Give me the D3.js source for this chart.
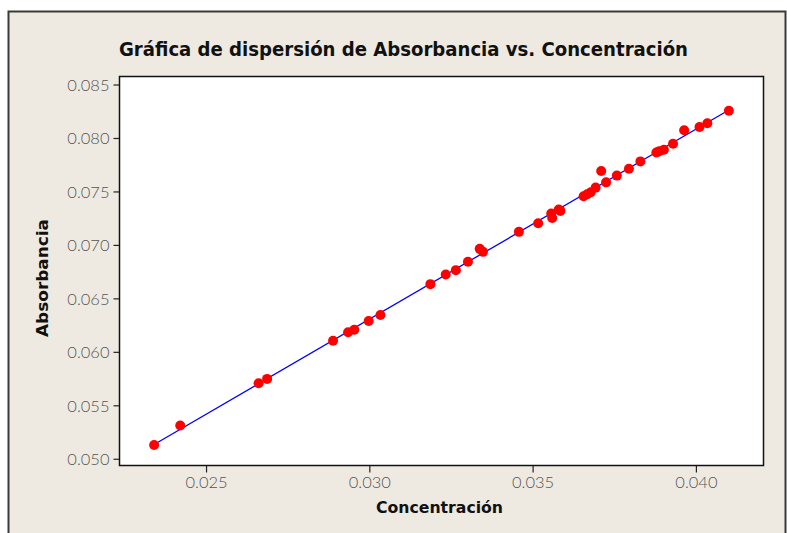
<!DOCTYPE html>
<html>
<head>
<meta charset="utf-8">
<script src="https://cdn.jsdelivr.net/npm/d3@7"></script>
<style>
    body { margin: 0; background: white; }
    svg { display: block; }
</style>
</head>
<body>
<svg width="787" height="533"></svg>
<script>
var concentracion = [
    0.02341, 0.02421, 0.02661, 0.02687, 0.02889, 0.02935, 0.02954, 0.02998,
    0.03034, 0.03187, 0.03234, 0.03265, 0.03302, 0.03338, 0.03348, 0.03458,
    0.03517, 0.03557, 0.03560, 0.03580, 0.03585, 0.03656, 0.03667, 0.03678,
    0.03693, 0.03710, 0.03725, 0.03758, 0.03795, 0.03830, 0.03879, 0.03888,
    0.03902, 0.03930, 0.03964, 0.04011, 0.04035, 0.04101
];

var absorbancia = [
    0.05128, 0.05311, 0.05707, 0.05747, 0.06104, 0.06183, 0.06207, 0.06288,
    0.06344, 0.06633, 0.06724, 0.06764, 0.06842, 0.06963, 0.06935, 0.07122,
    0.07203, 0.07293, 0.07252, 0.07331, 0.07318, 0.07455, 0.07473, 0.07492,
    0.07536, 0.07691, 0.07585, 0.07648, 0.07713, 0.07781, 0.07865, 0.07877,
    0.07890, 0.07946, 0.08073, 0.08102, 0.08137, 0.08255
];

var xTicks = [0.025, 0.030, 0.035, 0.040];
var yTicks = [0.050, 0.055, 0.060, 0.065, 0.070, 0.075, 0.080, 0.085];

var title = "Gráfica de dispersión de Absorbancia vs. Concentración";
var xLabel = "Concentración";
var yLabel = "Absorbancia";

var points = concentracion.map((c, i) => ({ x: c, y: absorbancia[i] }));

// least squares fit for the blue line
var mx = d3.mean(concentracion), my = d3.mean(absorbancia);
var sxy = d3.sum(points, d => (d.x - mx) * (d.y - my));
var sxx = d3.sum(points, d => (d.x - mx) * (d.x - mx));
var slope = sxy / sxx;
var intercept = my - slope * mx;
var xExtent = d3.extent(concentracion);
var fitLine = xExtent.map(x => ({ x: x, y: intercept + slope * x }));

var plot = { left: 119.5, right: 763.5, top: 76.5, bottom: 465.5 };

var xScale = d3.scaleLinear().domain([0.02235, 0.04207]).range([plot.left, plot.right]);
var yScale = d3.scaleLinear().domain([0.04937, 0.08575]).range([plot.bottom, plot.top]);

var svg = d3.select("svg");

// Outer frame
svg.append("rect")
    .attr("x", 8.5)
    .attr("y", 11.5)
    .attr("width", 777)
    .attr("height", 540)
    .attr("fill", "#EEEAE1")
    .attr("stroke", "#3a3a3a")
    .attr("stroke-width", 2);

// Plot area
svg.append("rect")
    .attr("x", plot.left)
    .attr("y", plot.top)
    .attr("width", plot.right - plot.left)
    .attr("height", plot.bottom - plot.top)
    .attr("fill", "white");

// Axes
var xAxis = d3.axisBottom(xScale).tickValues(xTicks).tickFormat(d3.format(".3f")).tickSize(7).tickSizeOuter(0);
var yAxis = d3.axisLeft(yScale).tickValues(yTicks).tickFormat(d3.format(".3f")).tickSize(6).tickSizeOuter(0);

var gx = svg.append("g")
    .attr("transform", "translate(0," + plot.bottom + ")")
    .call(xAxis);
var gy = svg.append("g")
    .attr("transform", "translate(" + plot.left + ",0)")
    .call(yAxis);

[gx, gy].forEach(g => {
    g.select(".domain").remove();
    g.selectAll(".tick line").attr("stroke", "#222").attr("stroke-width", 1.2);
    g.selectAll(".tick text")
        .attr("fill", "#555")
        .style("font-family", "Lato, 'DejaVu Sans'")
        .style("font-weight", 300)
        .style("font-size", "16.5px");
});
gx.selectAll(".tick text").attr("y", 11);
gy.selectAll(".tick text").attr("x", -10).attr("dy", "0.36em");

// Plot border
svg.append("rect")
    .attr("x", plot.left)
    .attr("y", plot.top)
    .attr("width", plot.right - plot.left)
    .attr("height", plot.bottom - plot.top)
    .attr("fill", "none")
    .attr("stroke", "#111")
    .attr("stroke-width", 1.5);

// Fit line
svg.append("path")
    .datum(fitLine)
    .attr("d", d3.line().x(d => xScale(d.x)).y(d => yScale(d.y)))
    .attr("fill", "none")
    .attr("stroke", "#0000FF")
    .attr("stroke-width", 1.3);

// Points
svg.append("g")
    .selectAll("circle")
    .data(points)
    .join("circle")
    .attr("cx", d => xScale(d.x))
    .attr("cy", d => yScale(d.y))
    .attr("r", 5)
    .attr("fill", "#FF0000");

// Titles
svg.append("text")
    .attr("x", 403.5)
    .attr("y", 56)
    .attr("text-anchor", "middle")
    .attr("textLength", 569)
    .attr("lengthAdjust", "spacingAndGlyphs")
    .style("font-family", "'DejaVu Sans Condensed', 'DejaVu Sans'")
    .style("font-weight", "bold")
    .style("font-size", "19px")
    .attr("fill", "#111")
    .text(title);

svg.append("text")
    .attr("x", 439.5)
    .attr("y", 513)
    .attr("text-anchor", "middle")
    .attr("textLength", 127)
    .attr("lengthAdjust", "spacingAndGlyphs")
    .style("font-family", "'DejaVu Sans Condensed', 'DejaVu Sans'")
    .style("font-weight", "bold")
    .style("font-size", "16px")
    .attr("fill", "#111")
    .text(xLabel);

svg.append("text")
    .attr("transform", "translate(48,278) rotate(-90)")
    .attr("text-anchor", "middle")
    .attr("textLength", 118)
    .attr("lengthAdjust", "spacingAndGlyphs")
    .style("font-family", "'DejaVu Sans Condensed', 'DejaVu Sans'")
    .style("font-weight", "bold")
    .style("font-size", "16px")
    .attr("fill", "#111")
    .text(yLabel);
</script>
</body>
</html>
